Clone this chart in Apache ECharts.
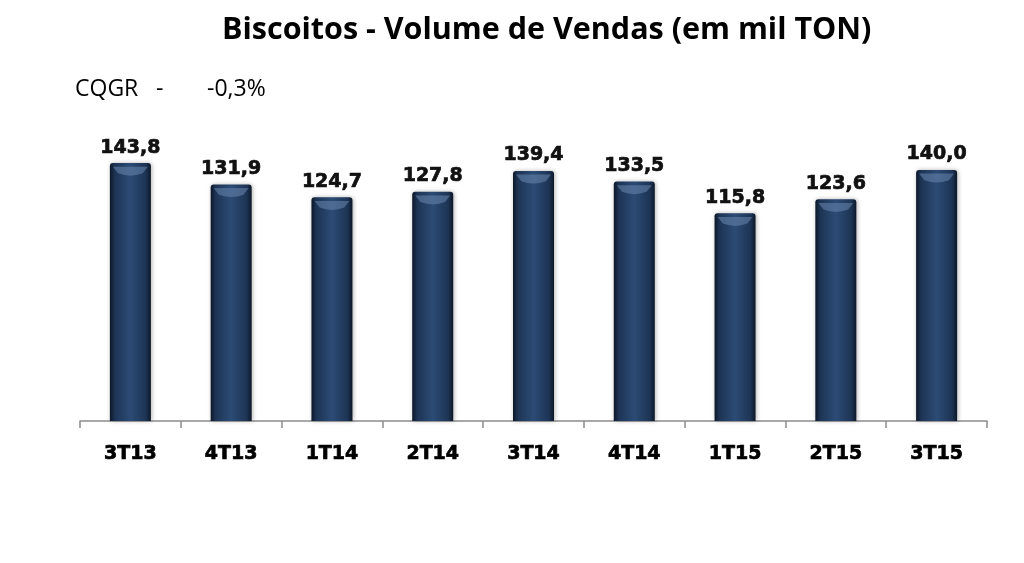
<!DOCTYPE html>
<html>
<head>
<meta charset="utf-8">
<script src="https://cdn.jsdelivr.net/npm/echarts@6/dist/echarts.min.js"></script>
<style>html,body{margin:0;padding:0;background:#fff}#c{width:1024px;height:563px}</style>
</head>
<body>
<div id="c"></div>
<script>
const categories = ['3T13','4T13','1T14','2T14','3T14','4T14','1T15','2T15','3T15'];
const volumes = [143.8, 131.9, 124.7, 127.8, 139.4, 133.5, 115.8, 123.6, 140.0];
const titleText = 'Biscoitos - Volume de Vendas (em mil TON)';
const cagrLabel = 'CQGR';
const cagrDash = '-';
const cagrValue = '-0,3%';

const chart = echarts.init(document.getElementById('c'));
chart.setOption({
  backgroundColor: '#fff',
  animation: false,
  title: {
    text: titleText,
    left: 217,
    top: 10,
    textStyle: { fontFamily: 'Open Sans', fontWeight: 'bold', fontSize: 30.5, color: '#000' }
  },
  graphic: [
    { type: 'text', left: 75, top: 78, style: { text: cagrLabel, fontFamily: 'Open Sans', fontSize: 23, fill: '#000' } },
    { type: 'text', left: 156, top: 78, style: { text: cagrDash, fontFamily: 'Open Sans', fontSize: 23, fill: '#000' } },
    { type: 'text', left: 207, top: 78, style: { text: cagrValue, fontFamily: 'Open Sans', fontSize: 23, fill: '#000' } }
  ],
  grid: { left: 80, right: 37, top: 152, bottom: 142 },
  xAxis: {
    type: 'category',
    data: categories,
    axisLine: { lineStyle: { color: '#8c8c8c', width: 1.5 } },
    axisTick: { show: true, length: 7, lineStyle: { color: '#8c8c8c', width: 1.5 } },
    axisLabel: { margin: 24, fontFamily: 'DejaVu Sans', fontWeight: 'bold', fontSize: 19, color: '#000', textBorderColor: '#000', textBorderWidth: 0.7 }
  },
  yAxis: { type: 'value', min: 0, max: 150, show: false, splitLine: { show: false } },
  series: [
    {
      type: 'bar',
      data: volumes,
      barWidth: 41,
      itemStyle: {
        color: new echarts.graphic.LinearGradient(0, 0, 1, 0, [
          { offset: 0, color: '#0c1728' },
          { offset: 0.12, color: '#1d3454' },
          { offset: 0.5, color: '#2c4b75' },
          { offset: 0.88, color: '#1d3454' },
          { offset: 1, color: '#0c1728' }
        ]),
        borderRadius: [3, 3, 0, 0],
        shadowColor: 'rgba(0,0,0,0.3)',
        shadowBlur: 4,
        shadowOffsetX: 1,
        shadowOffsetY: 0
      },
      label: {
        show: true,
        position: 'top',
        distance: 6,
        formatter: p => p.value.toFixed(1).replace('.', ','),
        fontFamily: 'DejaVu Sans',
        fontWeight: 'bold',
        fontSize: 19,
        color: '#111',
        textBorderColor: '#111',
        textBorderWidth: 0.7
      },
      z: 2
    },
    {
      type: 'pictorialBar',
      data: volumes,
      symbol: 'path://M0,0 L40,0 L34,7 Q20,12 6,7 Z',
      symbolSize: [35, 9],
      symbolPosition: 'end',
      symbolOffset: [0, '40%'],
      itemStyle: { color: 'rgba(105,135,175,0.55)' },
      silent: true,
      z: 3
    }
  ]
});
</script>
</body>
</html>
